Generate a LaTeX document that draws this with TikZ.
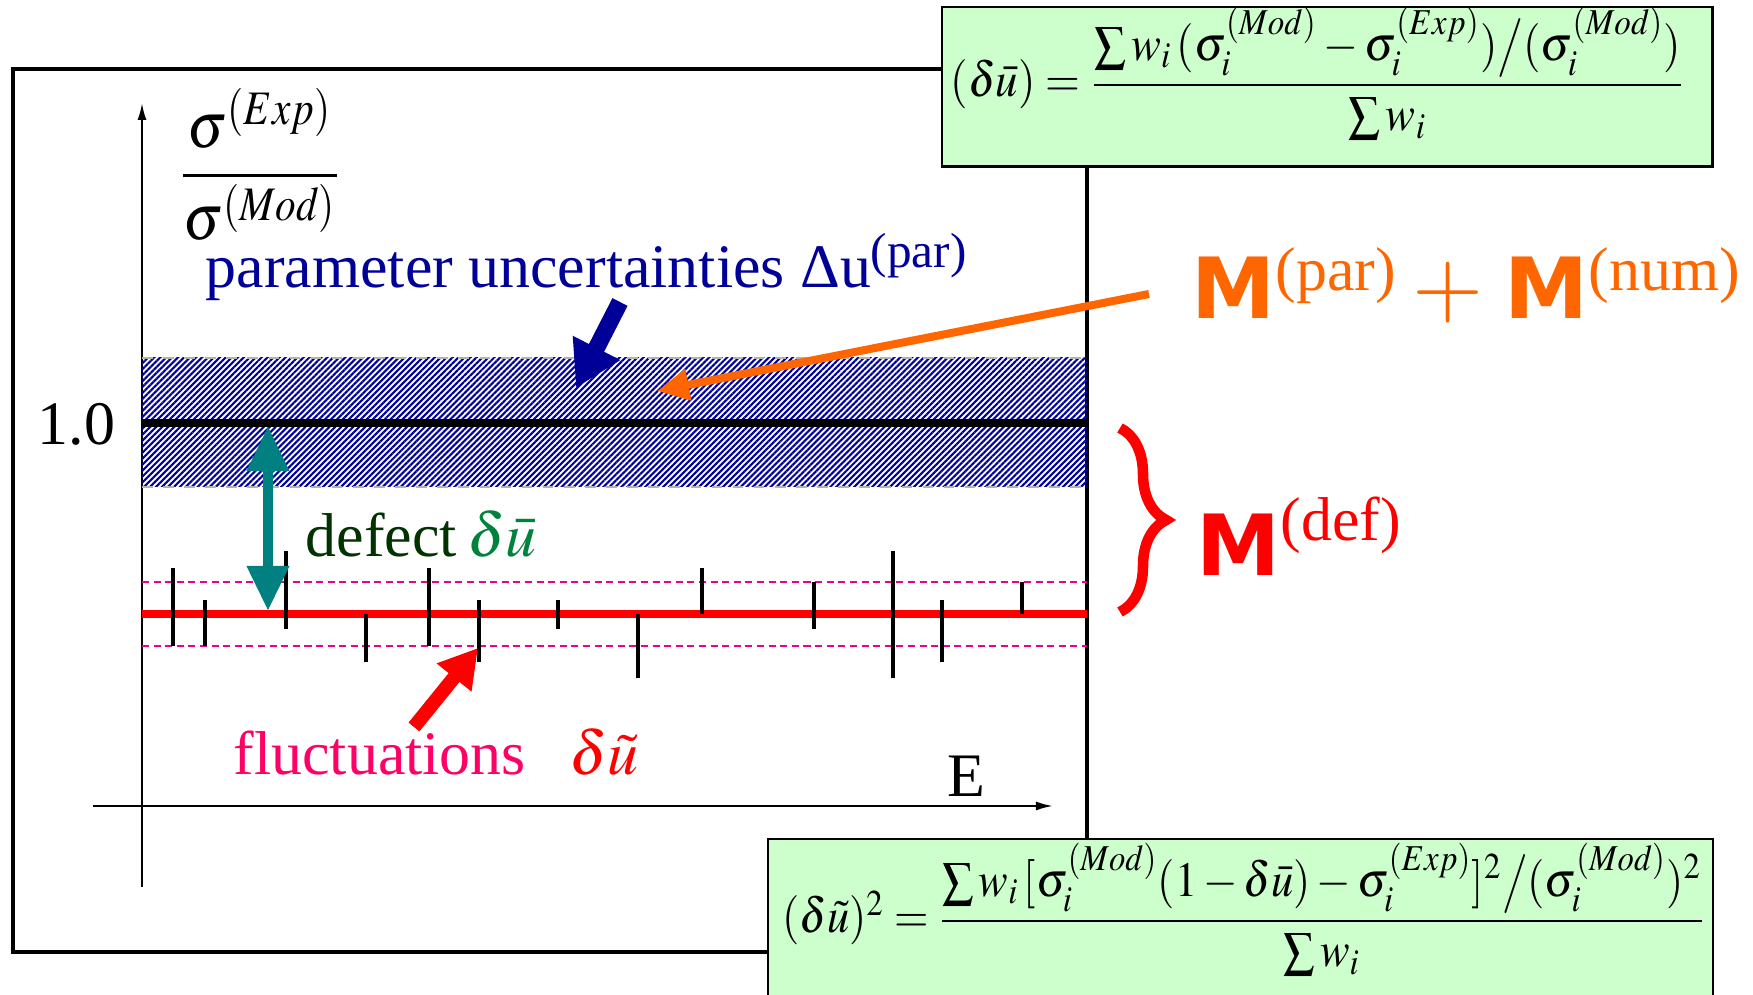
\documentclass[tikz,border=0pt]{standalone}
\usepackage{amsmath}
\usepackage{mathptmx}
\usepackage{fontspec}
\setmainfont{Liberation Serif}
\newfontfamily\mfont{DejaVu Sans}
\usetikzlibrary{arrows.meta,patterns.meta,decorations.pathreplacing}

\definecolor{parblue}{RGB}{0,0,153}
\definecolor{hatchblue}{RGB}{0,0,160}
\definecolor{mporange}{RGB}{255,102,0}
\definecolor{defteal}{RGB}{0,128,128}
\definecolor{defgreen}{RGB}{0,51,0}
\definecolor{dugreen}{RGB}{0,130,60}
\definecolor{flucpink}{RGB}{255,0,102}
\definecolor{boxgreen}{RGB}{204,255,204}

\begin{document}
\begin{tikzpicture}[x=0.01cm,y=-0.01cm,
  frm/.style={line width=1.3pt},
  fbox/.style={draw=black,line width=0.7pt,fill=boxgreen,inner sep=0pt,anchor=north west},
  errbar/.style={line width=1pt},
  lvl/.style={magenta,dash pattern=on 2pt off 1.3pt,line width=0.6pt},
  txt/.style={inner sep=0pt,anchor=base west,font=\fontsize{17.6}{20}\selectfont},
  frml/.style={inner sep=0pt,anchor=base,font=\fontsize{14}{16}\selectfont},
  axarr/.style={line width=0.6pt,-{Latex[length=0.17cm,width=0.09cm]}}]
\useasboundingbox (0,0) rectangle (1753,995);

% frame and axes
\draw[frm] (13,69) rectangle (1087,952);
\draw[axarr] (142,887) -- (142,103);
\draw[axarr] (93,806) -- (1053,806);

% band of parameter uncertainties
\path[pattern={Lines[angle=45,distance=1.2pt,line width=0.6pt]},pattern color=hatchblue]
  (142,358) rectangle (1087,487);
\draw[gray!60,dashed,line width=0.4pt] (142,358) -- (1087,358) (142,487) -- (1087,487);
\draw[line width=2pt] (142,423) -- (1087,423);

% fluctuations about the defect level
\draw[lvl] (142,582) -- (1087,582);
\draw[lvl] (142,646) -- (1087,646);
\draw[red,line width=2pt] (142,614) -- (1087,614);
\foreach \x/\t/\b in {173/568/646,205/600/646,286/551/629,366/614/662,429/568/646,
  479/600/662,558/600/629,638/614/678,702/568/614,814/582/629,893/551/678,
  942/600/662,1022/582/614}
  \draw[errbar] (\x,\t) -- (\x,\b);

% labels
\node[txt] (one) at (37,445) {1.0};
\node[txt] (elab) at (947,797) {E};
\node[inner sep=0pt,anchor=base,font=\fontsize{18.5}{22}\selectfont] (ylab) at (260,192)
  {\scalebox{0.86}[1]{$\dfrac{\sigma^{(Exp)}}{\sigma^{(Mod)}}$}};
\node[txt,text=parblue] (parlab) at (205,288)
  {parameter uncertainties Δu\raisebox{0.2cm}{\fontsize{14}{16}\selectfont(par)}};
\node[txt,text=defgreen] (deflab) at (305,557) {defect\,\textcolor{dugreen}{$\delta\bar{u}$}};
\node[txt,text=flucpink] (fluclab) at (233,775) {fluctuations\hspace{0.7em}\textcolor{red}{$\delta\tilde{u}$}};

\node[txt,text=mporange] (mpar) at (1191,319)
  {{\mfont\bfseries\fontsize{24}{24}\selectfont M}\raisebox{0.28cm}{(par)}};
\node[inner sep=0pt,text=mporange,font=\fontsize{26}{26}\selectfont] (plus) at (1448,293) {$+$};
\node[txt,text=mporange] (mnum) at (1504,319)
  {{\mfont\bfseries\fontsize{24}{24}\selectfont M}\raisebox{0.28cm}{(num)}};
\node[txt,text=red] (mdef) at (1196,576)
  {{\mfont\bfseries\fontsize{24}{24}\selectfont M}\raisebox{0.35cm}{(def)}};
\draw[red,line width=3pt,decorate,decoration={brace,amplitude=0.46cm}] (1120,428) -- (1120,612);

% arrows
\coordinate (partail) at (620,302);
\coordinate (parhead) at (576,388);
\coordinate (numtail) at (1149,294);
\coordinate (numhead) at (657,391);
\coordinate (deftop) at (268,426);
\coordinate (defbot) at (268,611);
\coordinate (fluctail) at (414,727);
\coordinate (fluchead) at (478,648);
\draw[parblue,line width=0.17cm,-{Triangle[length=0.45cm,width=0.5cm]}] (partail) -- (parhead);
\draw[mporange,line width=0.08cm,-{Triangle[length=0.32cm,width=0.3cm]}] (numtail) -- (numhead);
\draw[defteal,line width=0.1cm,{Triangle[length=0.45cm,width=0.4cm]}-{Triangle[length=0.45cm,width=0.4cm]}] (deftop) -- (defbot);
\draw[red,line width=0.14cm,-{Triangle[length=0.38cm,width=0.42cm]}] (fluctail) -- (fluchead);

% formula boxes
\node[fbox,minimum width=7.7cm,minimum height=1.59cm] (defbox) at (941,6) {};
\node[frml] (deffrm) at (1318,97)
  {\scalebox{0.91}[1]{$(\delta\bar{u})=\dfrac{\sum w_i\,(\sigma_i^{(Mod)}-\sigma_i^{(Exp)})\big/(\sigma_i^{(Mod)})}{\sum w_i}$}};
\node[fbox,minimum width=9.44cm,minimum height=1.8cm] (flucbox) at (767,838) {};
\node[frml] (flucfrm) at (1244,933)
  {\scalebox{0.9}[1]{$(\delta\tilde{u})^2=\dfrac{\sum w_i\,[\sigma_i^{(Mod)}(1-\delta\bar{u})-\sigma_i^{(Exp)}]^2\big/(\sigma_i^{(Mod)})^2}{\sum w_i}$}};
\end{tikzpicture}
\end{document}
